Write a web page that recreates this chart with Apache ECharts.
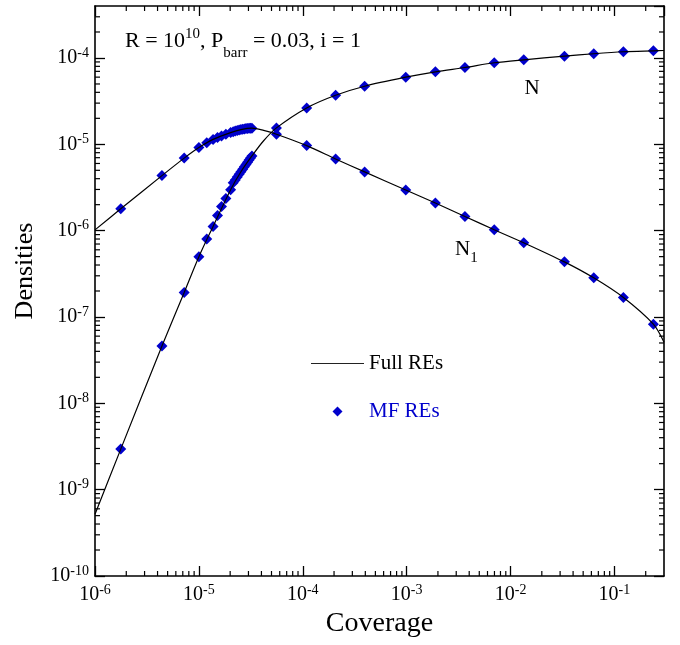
<!DOCTYPE html>
<html>
<head>
<meta charset="utf-8">
<script src="https://cdn.jsdelivr.net/npm/echarts@6/dist/echarts.min.js"></script>
<style>
  html, body { margin: 0; padding: 0; background: #fff; }
  #main { width: 680px; height: 645px; }
</style>
</head>
<body>
<div id="main"></div>
<script>
// coverage values of the MF RE points
var coverage = [1.77e-6, 4.41e-6, 7.22e-6, 1.0e-5, 1.19e-5, 1.37e-5, 1.51e-5, 1.65e-5, 1.82e-5, 2.02e-5,
  2.14e-5, 2.24e-5, 2.34e-5, 2.44e-5, 2.54e-5, 2.64e-5, 2.74e-5, 2.84e-5, 2.94e-5, 3.04e-5, 3.14e-5, 3.24e-5,
  5.58e-5, 1.09e-4, 2.07e-4, 3.94e-4, 9.8e-4, 1.89e-3, 3.64e-3, 6.97e-3, 1.34e-2, 3.30e-2, 6.32e-2, 0.122, 0.237]
var mfN = [2.95e-9, 4.62e-8, 1.92e-7, 4.98e-7, 8.0e-7, 1.12e-6, 1.5e-6, 1.91e-6, 2.36e-6, 2.98e-6,
  3.58e-6, 3.86e-6, 4.17e-6, 4.49e-6, 4.81e-6, 5.14e-6, 5.48e-6, 5.83e-6, 6.2e-6, 6.56e-6, 6.95e-6, 7.33e-6,
  1.55e-5, 2.64e-5, 3.70e-5, 4.71e-5, 5.99e-5, 6.92e-5, 7.76e-5, 8.80e-5, 9.53e-5, 1.05e-4, 1.12e-4, 1.18e-4, 1.21e-4]
var mfN1 = [1.79e-6, 4.34e-6, 6.92e-6, 9.17e-6, 1.04e-5, 1.14e-5, 1.196e-5, 1.252e-5, 1.31e-5, 1.367e-5,
  1.40e-5, 1.423e-5, 1.445e-5, 1.465e-5, 1.481e-5, 1.497e-5, 1.509e-5, 1.52e-5, 1.529e-5, 1.537e-5, 1.54e-5, 1.54e-5,
  1.31e-5, 9.66e-6, 6.77e-6, 4.79e-6, 2.96e-6, 2.09e-6, 1.46e-6, 1.024e-6, 7.24e-7, 4.35e-7, 2.84e-7, 1.68e-7, 8.25e-8]

// full RE curves
var fullX = [1e-6, 1.77e-6, 4.41e-6, 7.22e-6, 1e-5, 1.37e-5, 2.02e-5, 2.54e-5, 3.24e-5, 4.2e-5, 5.58e-5,
  1.09e-4, 2.07e-4, 3.94e-4, 9.8e-4, 1.89e-3, 3.64e-3, 6.97e-3, 1.34e-2, 3.30e-2, 6.32e-2, 0.122, 0.237, 0.3]
var fullN = [5.2e-10, 2.95e-9, 4.62e-8, 1.92e-7, 4.98e-7, 1.12e-6, 2.98e-6, 4.81e-6, 7.33e-6, 1.1e-5, 1.55e-5,
  2.64e-5, 3.70e-5, 4.71e-5, 5.99e-5, 6.92e-5, 7.76e-5, 8.80e-5, 9.53e-5, 1.05e-4, 1.12e-4, 1.18e-4, 1.21e-4, 1.22e-4]
var fullN1 = [1.02e-6, 1.79e-6, 4.34e-6, 6.92e-6, 9.17e-6, 1.14e-5, 1.367e-5, 1.481e-5, 1.54e-5, 1.45e-5, 1.31e-5,
  9.66e-6, 6.77e-6, 4.79e-6, 2.96e-6, 2.09e-6, 1.46e-6, 1.024e-6, 7.24e-7, 4.35e-7, 2.84e-7, 1.68e-7, 8.25e-8, 5.1e-8]

var xMin = 1e-6, xMax = 0.3
var yMin = 1e-10, yMax = 4e-4

var serif = 'Liberation Serif'
var blue = '#0000cc'

function pairs(xs, ys) {
  return xs.map(function (x, i) { return [x, ys[i]] })
}

// log minor ticks, 2..9 in each decade
var minorX = [], minorY = []
for (var e = -6; e <= -1; e++) {
  for (var m = 2; m <= 9; m++) { if (m * Math.pow(10, e) < xMax) minorX.push(m * Math.pow(10, e)) }
}
for (var e2 = -10; e2 <= -4; e2++) {
  for (var m2 = 2; m2 <= 9; m2++) { if (m2 * Math.pow(10, e2) < yMax) minorY.push(m2 * Math.pow(10, e2)) }
}

function powLabel(v) {
  var ex = Math.round(Math.log10(v))
  return '{b|10}{s|' + ex + '}'
}
var labelRich = {
  b: { fontFamily: serif, fontSize: 20, lineHeight: 22, color: '#000' },
  s: { fontFamily: serif, fontSize: 14, height: 12, verticalAlign: 'top', color: '#000' }
}

function axisLine() { return { show: true, lineStyle: { color: '#000', width: 1.6 } } }
function majorTick() { return { show: true, inside: true, length: 10, lineStyle: { color: '#000', width: 1.3 } } }

var texts = [{
  type: 'text', left: 125, top: 27,
  style: {
    text: '{n|R = 10}{sup|10}{n|, P}{sub|barr}{n| = 0.03, i = 1}',
    rich: {
      n: { fontFamily: serif, fontSize: 22, lineHeight: 27, fill: '#000' },
      sup: { fontFamily: serif, fontSize: 15, height: 14, verticalAlign: 'top', fill: '#000' },
      sub: { fontFamily: serif, fontSize: 15, height: 2, verticalAlign: 'bottom', fill: '#000' }
    }
  }
}, {
  type: 'text', x: 532, y: 88,
  style: { text: 'N', fontFamily: serif, fontSize: 21, fill: '#000', align: 'center', verticalAlign: 'middle' }
}, {
  type: 'text', left: 455, top: 239,
  style: {
    text: '{n|N}{sub|1}',
    rich: {
      n: { fontFamily: serif, fontSize: 21, lineHeight: 20, fill: '#000' },
      sub: { fontFamily: serif, fontSize: 15, height: 2, verticalAlign: 'bottom', fill: '#000' }
    }
  }
}, {
  type: 'text', x: 25, y: 271, rotation: Math.PI / 2,
  style: { text: 'Densities', fontFamily: serif, fontSize: 26, fill: '#000', align: 'center', verticalAlign: 'middle' }
}]

var chart = echarts.init(document.getElementById('main'))

chart.setOption({
  backgroundColor: '#fff',
  animation: false,
  grid: { left: 95, top: 6, width: 569, height: 570 },
  legend: {
    left: 306, top: 348, orient: 'vertical',
    itemWidth: 53, itemHeight: 10, itemGap: 27,
    textStyle: { fontFamily: serif, fontSize: 21 },
    data: [
      { name: 'Full REs', icon: 'path://M0,0H53V1.2H0Z', itemStyle: { color: '#222' }, textStyle: { color: '#000' } },
      { name: 'MF REs', icon: 'path://M5,0L10,5L5,10L0,5Z', itemStyle: { color: blue }, textStyle: { color: blue } }
    ]
  },
  xAxis: [{
    type: 'log', min: xMin, max: xMax, position: 'bottom',
    name: 'Coverage', nameLocation: 'middle', nameGap: 33,
    nameTextStyle: { fontFamily: serif, fontSize: 28, color: '#000' },
    axisLine: axisLine(), axisTick: majorTick(), splitLine: { show: false },
    axisLabel: { margin: 8, formatter: powLabel, rich: labelRich, showMinLabel: true, showMaxLabel: false }
  }, {
    type: 'log', min: xMin, max: xMax, position: 'top',
    axisLine: axisLine(), axisTick: majorTick(), splitLine: { show: false }, axisLabel: { show: false }
  }],
  yAxis: [{
    type: 'log', min: yMin, max: yMax, position: 'left',
    axisLine: axisLine(), axisTick: majorTick(), splitLine: { show: false },
    axisLabel: { margin: 6, formatter: powLabel, rich: labelRich, showMinLabel: true, showMaxLabel: false }
  }, {
    type: 'log', min: yMin, max: yMax, position: 'right',
    axisLine: axisLine(), axisTick: majorTick(), splitLine: { show: false }, axisLabel: { show: false }
  }],
  graphic: texts,
  series: [{
    name: 'Full REs', type: 'line', data: pairs(fullX, fullN),
    symbol: 'none', smooth: 0.3, color: '#000', lineStyle: { color: '#000', width: 1.2 }
  }, {
    name: 'Full REs', type: 'line', data: pairs(fullX, fullN1),
    symbol: 'none', smooth: 0.3, color: '#000', lineStyle: { color: '#000', width: 1.2 }
  }, {
    name: 'MF REs', type: 'scatter', data: pairs(coverage, mfN),
    symbol: 'diamond', symbolSize: 11, itemStyle: { color: blue, opacity: 1, borderWidth: 0 }
  }, {
    name: 'MF REs', type: 'scatter', data: pairs(coverage, mfN1),
    symbol: 'diamond', symbolSize: 11, itemStyle: { color: blue, opacity: 1, borderWidth: 0 }
  }]
})

// minor ticks placed through the axes' own scales, drawn as graphic lines
var gx0 = chart.convertToPixel({ xAxisIndex: 0 }, xMin)
var gx1 = chart.convertToPixel({ xAxisIndex: 0 }, xMax)
var gy0 = chart.convertToPixel({ yAxisIndex: 0 }, yMin)
var gy1 = chart.convertToPixel({ yAxisIndex: 0 }, yMax)
var tickStyle = { stroke: '#000', lineWidth: 1.2 }
var ticks = []
minorX.forEach(function (v) {
  var px = chart.convertToPixel({ xAxisIndex: 0 }, v)
  ticks.push({ type: 'line', shape: { x1: px, y1: gy0, x2: px, y2: gy0 - 5 }, style: tickStyle })
  ticks.push({ type: 'line', shape: { x1: px, y1: gy1, x2: px, y2: gy1 + 5 }, style: tickStyle })
})
minorY.forEach(function (v) {
  var py = chart.convertToPixel({ yAxisIndex: 0 }, v)
  ticks.push({ type: 'line', shape: { x1: gx0, y1: py, x2: gx0 + 5, y2: py }, style: tickStyle })
  ticks.push({ type: 'line', shape: { x1: gx1, y1: py, x2: gx1 - 5, y2: py }, style: tickStyle })
})
chart.setOption({ graphic: texts.concat([{ type: 'group', silent: true, children: ticks }]) })
</script>
</body>
</html>
